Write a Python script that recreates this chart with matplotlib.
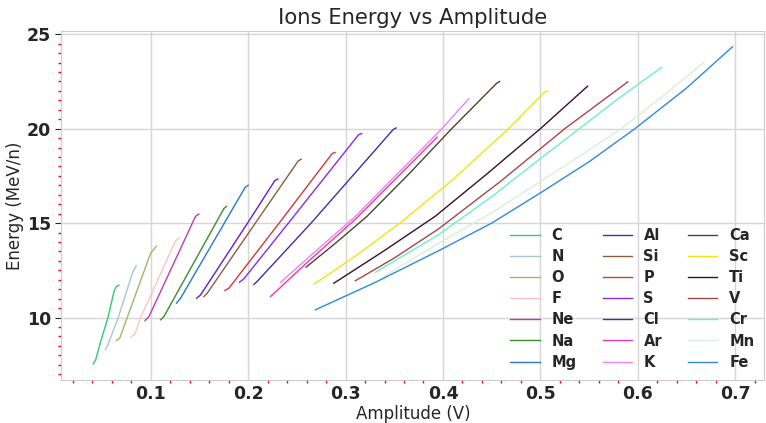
import numpy as np
import matplotlib
matplotlib.use("Agg")
import matplotlib.pyplot as plt
from matplotlib.ticker import MultipleLocator

# values, one amplitude / energy list per ion
amp_C = [0.041, 0.0435, 0.0486, 0.0561, 0.0623, 0.0646, 0.0674]
en_C = [7.54, 7.76, 8.73, 10.0, 11.38, 11.64, 11.71]
amp_N = [0.0537, 0.0556, 0.0667, 0.0815, 0.0851]
en_N = [8.32, 8.5, 10.0, 12.4, 12.74]
amp_O = [0.0647, 0.0681, 0.0759, 0.0999, 0.1057]
en_O = [8.78, 8.9, 10.0, 13.41, 13.77]
amp_F = [0.0797, 0.0838, 0.0896, 0.1255, 0.1292]
en_F = [8.96, 9.12, 10.0, 14.07, 14.21]
amp_Ne = [0.0941, 0.0982, 0.146, 0.1494]
en_Ne = [9.84, 10.05, 15.36, 15.48]
amp_Na = [0.1101, 0.1135, 0.1751, 0.1778]
en_Na = [9.88, 10.05, 15.77, 15.89]
amp_Mg = [0.1265, 0.1306, 0.197, 0.2]
en_Mg = [10.76, 11.02, 16.9, 17.0]
amp_Al = [0.1471, 0.1512, 0.1994, 0.2274, 0.2305]
en_Al = [11.02, 11.2, 15.0, 17.25, 17.34]
amp_Si = [0.1546, 0.158, 0.2074, 0.2515, 0.2544]
en_Si = [11.11, 11.29, 15.0, 18.3, 18.38]
amp_P = [0.1761, 0.1802, 0.2318, 0.2862, 0.2892]
en_P = [11.43, 11.55, 15.0, 18.68, 18.74]
amp_S = [0.1912, 0.1956, 0.2413, 0.3135, 0.3166]
en_S = [11.87, 12.05, 15.0, 19.69, 19.74]
amp_Cl = [0.2059, 0.2092, 0.2646, 0.3488, 0.3518]
en_Cl = [11.75, 11.91, 15.0, 19.95, 20.04]
amp_Ar = [0.223, 0.2623, 0.31, 0.394]
en_Ar = [11.11, 13.0, 15.2, 19.55]
amp_K = [0.2332, 0.2623, 0.31, 0.399, 0.4264]
en_K = [11.86, 13.2, 15.35, 20.0, 21.58]
amp_Ca = [0.2595, 0.29, 0.322, 0.365, 0.408, 0.455, 0.4581]
en_Ca = [12.67, 13.95, 15.36, 17.6, 19.95, 22.4, 22.5]
amp_Sc = [0.2674, 0.2715, 0.31, 0.358, 0.41, 0.4674, 0.504, 0.5071]
en_Sc = [11.77, 11.9, 13.25, 15.09, 17.3, 20.0, 21.93, 22.0]
amp_Ti = [0.2879, 0.292, 0.34, 0.392, 0.445, 0.5, 0.5484]
en_Ti = [11.82, 11.95, 13.55, 15.36, 17.6, 20.0, 22.25]
amp_V = [0.3101, 0.35, 0.3956, 0.46, 0.525, 0.5897]
en_V = [11.95, 13.15, 14.7, 17.25, 20.0, 22.48]
amp_Cr = [0.3307, 0.3956, 0.45, 0.5, 0.54, 0.58, 0.6246]
en_Cr = [12.4, 14.39, 16.4, 18.42, 20.0, 21.6, 23.25]
amp_Mn = [0.34, 0.3956, 0.45, 0.5, 0.54, 0.583, 0.625, 0.6681]
en_Mn = [12.2, 13.94, 15.55, 17.2, 18.55, 20.0, 21.7, 23.51]
amp_Fe = [0.2691, 0.33, 0.3956, 0.45, 0.5, 0.55, 0.597, 0.65, 0.6972]
en_Fe = [10.41, 11.85, 13.54, 15.0, 16.6, 18.25, 20.0, 22.15, 24.34]

ions = ["C", "N", "O", "F", "Ne", "Na", "Mg", "Al", "Si", "P", "S",
        "Cl", "Ar", "K", "Ca", "Sc", "Ti", "V", "Cr", "Mn", "Fe"]
colors = ["#2ecc71", "#a9c6cf", "#a0b86a", "#ffc0cb", "#c03bb0", "#3d8c2f",
          "#2878c8", "#6a1bc2", "#8b5e3c", "#d03a3a", "#8a2be2", "#3d30a8",
          "#ee3aaf", "#ee82ee", "#5e3c2c", "#f7e40a", "#3b0f2a", "#a94545",
          "#6ef0c8", "#d8f0d8", "#2b8cd8"]

amps = [amp_C, amp_N, amp_O, amp_F, amp_Ne, amp_Na, amp_Mg, amp_Al, amp_Si,
        amp_P, amp_S, amp_Cl, amp_Ar, amp_K, amp_Ca, amp_Sc, amp_Ti, amp_V,
        amp_Cr, amp_Mn, amp_Fe]
ens = [en_C, en_N, en_O, en_F, en_Ne, en_Na, en_Mg, en_Al, en_Si, en_P, en_S,
       en_Cl, en_Ar, en_K, en_Ca, en_Sc, en_Ti, en_V, en_Cr, en_Mn, en_Fe]

plt.rcParams['font.family'] = ['DejaVu Sans']
plt.rcParams['text.color'] = '#262626'
plt.rcParams['axes.labelcolor'] = '#262626'

fig, ax = plt.subplots(figsize=(7.66, 4.23), dpi=100)
fig.subplots_adjust(left=0.080, right=0.998, top=0.927, bottom=0.102)

for ion, c, x, y in zip(ions, colors, amps, ens):
    ax.plot(x, y, color=c, lw=1.0, label=ion)

ax.set_title("Ions Energy vs Amplitude", fontsize=15.2, color='#262626', pad=5)
ax.set_xlabel("Amplitude (V)", fontsize=12, labelpad=1.5)
ax.set_ylabel("Energy (MeV/n)", fontsize=12, labelpad=2)

ax.grid(True, color='#d6d6d6', lw=1.0)
ax.set_axisbelow(True)
for s in ax.spines.values():
    s.set_color('#cccccc')

ax.xaxis.set_major_locator(MultipleLocator(0.1))
ax.yaxis.set_major_locator(MultipleLocator(5))
ax.xaxis.set_minor_locator(MultipleLocator(0.02))
ax.yaxis.set_minor_locator(MultipleLocator(0.5))
ax.tick_params(which='minor', color='red', length=2.5, width=1)
ax.tick_params(axis='y', which='major', length=4, color='#262626')
ax.tick_params(axis='x', which='major', length=0)
ax.tick_params(which='major', labelsize=12.5, labelcolor='#262626')
for lab in ax.get_xticklabels() + ax.get_yticklabels():
    lab.set_fontweight('bold')

ax.legend(ncol=3, frameon=False, loc='lower right', prop={'weight': 'bold', 'size': 10.5},
          labelspacing=0.42, columnspacing=1.8, handlelength=2.0, borderaxespad=0.3)

fig.savefig("out.png", dpi=100)
